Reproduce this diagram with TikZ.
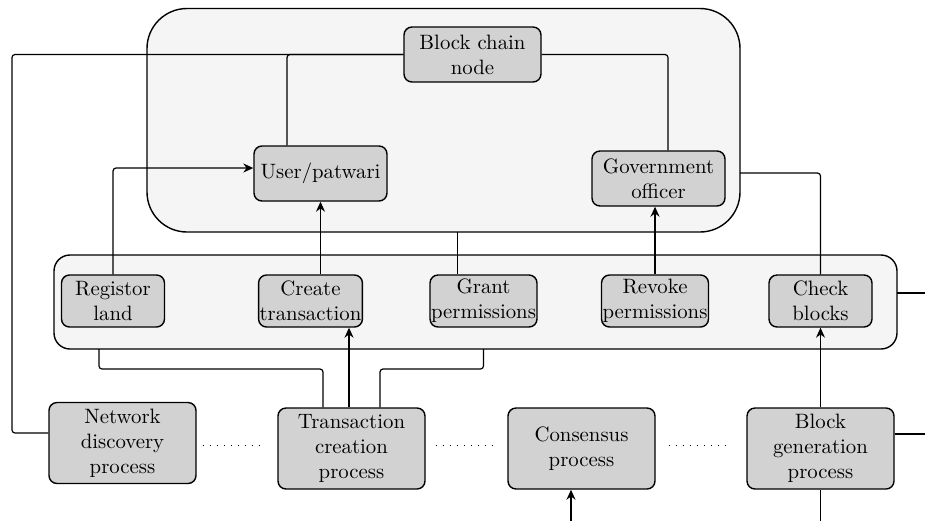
\documentclass[tikz,border=0pt]{standalone}
\usepackage{tikz}
\usetikzlibrary{arrows.meta}

\tikzset{
  box/.style={draw, line width=0.7pt, rounded corners=4pt, fill=gray!35, align=center,
    inner sep=0.5pt, font=\fontsize{10.4}{12.5}\selectfont},
  small/.style={box, minimum width=51.5pt, minimum height=26pt},
  proc/.style={box, minimum width=73.5pt, minimum height=40.5pt},
  panel/.style={draw, line width=0.7pt, fill=gray!8},
  conn/.style={line width=0.6pt, rounded corners=1.5pt},
  arr/.style={conn, -{Stealth[length=5pt,width=4.5pt]}},
  dots/.style={line width=0.5pt, dash pattern=on 0.5pt off 3pt}
}

\begin{document}
\begin{tikzpicture}[x=0.5pt, y=-0.5pt]
            \useasboundingbox (0,0) rectangle (925,521);

            % Panels
            \draw[panel, rounded corners=20pt] (147,8.5) rectangle (740,232);
            \draw[panel, rounded corners=8pt] (54,255) rectangle (897,349);

            % Top panel
            \node[box, minimum width=68.5pt, minimum height=27.5pt] (bcn) at (472.5,54.5) {Block chain\\node};
            \node[box, minimum width=66.5pt, minimum height=27.5pt] (user) at (320.5,173.5) {User/patwari};
            \node[box, minimum width=66.5pt, minimum height=27.5pt] (gov) at (658.5,178.5) {Government\\officer};

            % Operations
            \node[small] (reg) at (113,301) {Registor\\land};
            \node[small] (cre) at (310.5,301) {Create\\transaction};
            \node[small] (grant) at (483.5,301) {Grant\\permissions};
            \node[small] (rev) at (655,301) {Revoke\\permissions};
            \node[small] (chk) at (820.5,301) {Check\\blocks};

            % Processes
            \node[proc] (net) at (122.5,443) {Network\\discovery\\process};
            \node[proc] (tx) at (351.5,448.5) {Transaction\\creation\\process};
            \node[proc] (cons) at (581.5,448.5) {Consensus\\process};
            \node[proc] (gen) at (820.5,448.5) {Block\\generation\\process};

            \coordinate (topR) at (740,173);
            \coordinate (topB) at (457.5,232);
            \coordinate (opsR) at (897,293);
            \coordinate (opsB) at (99,349);

            % Links in the top panel
            \draw[conn] (bcn.west) -| ([xshift=-16.75pt]user.north);
            \draw[conn] (bcn.west) -- (12,54.5) |- ([yshift=5pt]net.west);
            \draw[conn] (bcn.east) -| ([xshift=4.75pt]gov.north);
            \draw[arr] (reg.north) |- ([yshift=2.75pt]user.west);
            \draw[arr] (user.south |- cre.north) -- (user.south);
            \draw[arr] (rev.north) -- (rev.north |- gov.south);
            \draw[conn] (topR) -| (chk.north);
            \draw[conn] (topB) -- (topB |- grant.north);

            % Links below the operations
            \draw[conn] (opsB) -- ++(0,20) -| ([xshift=-14.25pt]tx.north);
            \draw[arr] ([xshift=-1.25pt]tx.north) -- ([xshift=-1.25pt]tx.north |- cre.south);
            \draw[conn] ([xshift=14.25pt]tx.north) |- ([yshift=-10pt]grant.south |- opsB) -- (grant.south |- opsB);
            \draw[arr] (gen.north) -- (chk.south);

            % Outgoing lines
            \draw[conn] (opsR) -- ++(28,0);
            \draw[conn] ([yshift=7.25pt]gen.east) -- ++(31,0);
            \draw[arr] ([xshift=-5.25pt]cons.south |- 0,521) -- ([xshift=-5.25pt]cons.south);
            \draw[conn] (gen.south) -- (gen.south |- 0,521);

            % Dotted steps
            \draw[dots] ([xshift=3pt]net.east |- 0,445) -- ([xshift=-6.5pt]tx.west |- 0,445);
            \draw[dots] ([xshift=5pt]tx.east |- 0,445) -- ([xshift=-5.5pt]cons.west |- 0,445);
            \draw[dots] ([xshift=6.5pt]cons.east |- 0,445) -- ([xshift=-8.5pt]gen.west |- 0,445);
        \end{tikzpicture}
\end{document}
